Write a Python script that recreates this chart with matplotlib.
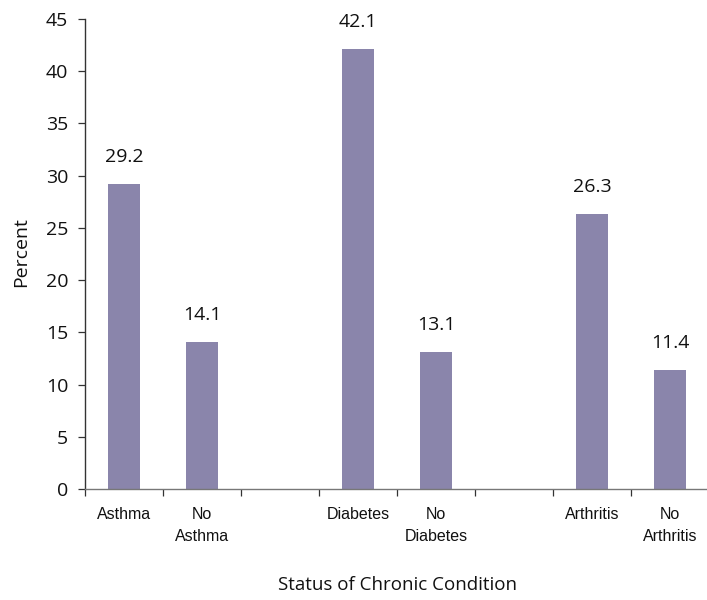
import numpy as np
import matplotlib
matplotlib.use("Agg")
import matplotlib.pyplot as plt

# Category slots (empty strings are spacer slots between condition groups)
categories = ["Asthma", "No\nAsthma", "", "Diabetes", "No\nDiabetes", "", "Arthritis", "No\nArthritis"]
percent = [29.2, 14.1, np.nan, 42.1, 13.1, np.nan, 26.3, 11.4]
y_ticks = [0, 5, 10, 15, 20, 25, 30, 35, 40, 45]

bar_color = "#8A85AB"
label_font = ["Open Sans", "DejaVu Sans"]
cat_font = ["Liberation Sans", "DejaVu Sans"]

fig = plt.figure(figsize=(7.07, 6.0), dpi=100)
ax = fig.add_axes([85 / 707, 1 - 489 / 600, 624 / 707, 470 / 600])

x = np.arange(len(categories))
ax.bar(x, percent, width=0.4, color=bar_color, zorder=2)

for xi, v in zip(x, percent):
    if np.isnan(v):
        continue
    ax.annotate(f"{v:.1f}", (xi, v), xytext=(0, 16), textcoords="offset points",
                ha="center", va="baseline", fontsize=14, family=label_font, color="#111111")

ax.set_xlim(-0.5, len(categories) - 0.5)
ax.set_ylim(0, 45)

# y axis
ax.set_yticks(y_ticks)
ax.set_yticklabels([str(t) for t in y_ticks], family=label_font, fontsize=14, color="#111111")
ax.tick_params(axis="y", direction="out", length=5, width=0.9, color="#333333", pad=7)

# x axis: labels centred in slots, tick marks on slot boundaries
ax.set_xticks(x)
ax.set_xticklabels(categories, family=cat_font, fontsize=11.5, color="#111111", linespacing=1.6)
ax.tick_params(axis="x", which="major", length=0, pad=13)
ax.set_xticks(np.arange(-0.5, len(categories) + 0.5, 1.0), minor=True)
ax.tick_params(axis="x", which="minor", direction="out", length=5, width=0.9, color="#333333")

for side in ("top", "right"):
    ax.spines[side].set_visible(False)
ax.spines["left"].set_color("#333333")
ax.spines["left"].set_linewidth(1.0)
ax.spines["bottom"].set_color("#777777")
ax.spines["bottom"].set_linewidth(1.0)
ax.spines["bottom"].set_zorder(3)

fig.text(21 / 707, 1 - 252 / 600, "Percent", rotation=90, ha="center", va="center",
         fontsize=14, family=label_font, color="#111111")
fig.text(398 / 707, 1 - 585 / 600, "Status of Chronic Condition", ha="center", va="center",
         fontsize=13.5, family=label_font, color="#111111")

fig.savefig("out.png", dpi=100)
